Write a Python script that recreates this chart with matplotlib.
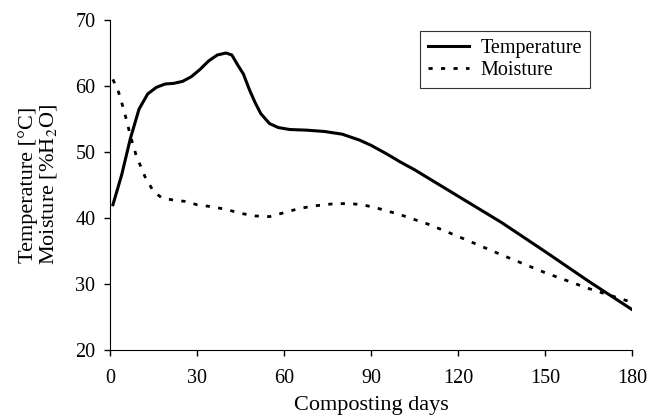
import matplotlib.pyplot as plt

plt.rcParams['font.family'] = ['Liberation Serif', 'DejaVu Serif']
plt.rcParams['mathtext.fontset'] = 'stix'

# composting data
temp_days = [1, 4, 7, 10, 13, 16, 19, 22, 25, 28, 31, 34, 37, 40, 42, 44, 46, 48,
             50, 52, 55, 58, 62, 68, 74, 80, 86, 90, 95, 100, 105, 120, 135, 150, 165, 180]
temp_vals = [42.0, 46.5, 52.0, 56.5, 58.8, 59.8, 60.3, 60.4, 60.7, 61.4, 62.5, 63.8, 64.7, 65.0,
             64.7, 63.2, 61.8, 59.5, 57.5, 55.8, 54.3, 53.7, 53.4, 53.3, 53.1, 52.7, 51.8,
             51.0, 49.8, 48.5, 47.3, 43.3, 39.3, 34.9, 30.4, 26.1]

moist_days = [1, 3, 5, 7, 9, 12, 15, 18, 22, 26, 30, 35, 40, 45, 50, 55, 60, 65, 70,
              76, 82, 87, 92, 100, 110, 120, 135, 150, 165, 180]
moist_vals = [61.0, 59.0, 56.0, 52.5, 49.5, 46.3, 44.0, 43.0, 42.7, 42.5, 42.0, 41.7, 41.3,
              40.7, 40.3, 40.2, 40.8, 41.4, 41.8, 42.1, 42.2, 42.0, 41.5, 40.5, 39.0, 37.2,
              34.4, 31.7, 29.3, 27.2]

fig = plt.figure(figsize=(6.51, 4.17), dpi=100)
ax = fig.add_axes([0.169, 0.161, 0.802, 0.791])

ax.plot(temp_days, temp_vals, color='black', lw=2.2, label='Temperature')
ax.plot(moist_days, moist_vals, color='black', lw=2.0, linestyle=(0, (1.5, 3)),
        label='Moisture')

ax.set_xlim(0, 180)
ax.set_ylim(20, 70)
ax.set_xticks(range(0, 181, 30))
ax.set_yticks(range(20, 71, 10))
ax.spines['top'].set_visible(False)
ax.spines['right'].set_visible(False)
ax.tick_params(labelsize=14.5, direction='out', length=4.5, width=1)
ax.tick_params(axis='x', pad=9)
ax.tick_params(axis='y', pad=6)

ax.set_xlabel('Composting days', fontsize=16, labelpad=6)
ax.set_ylabel('Temperature [°C]\nMoisture [%H$_2$O]', fontsize=16, linespacing=0.95,
              labelpad=12)

leg = ax.legend(loc='upper right', bbox_to_anchor=(0.92, 0.967), borderaxespad=0,
                fontsize=14.5, frameon=True, fancybox=False, edgecolor='black',
                handlelength=2.0, borderpad=0.4, labelspacing=0.15, handletextpad=0.6)
leg.get_frame().set_linewidth(0.8)

fig.savefig('out.png', dpi=100)
